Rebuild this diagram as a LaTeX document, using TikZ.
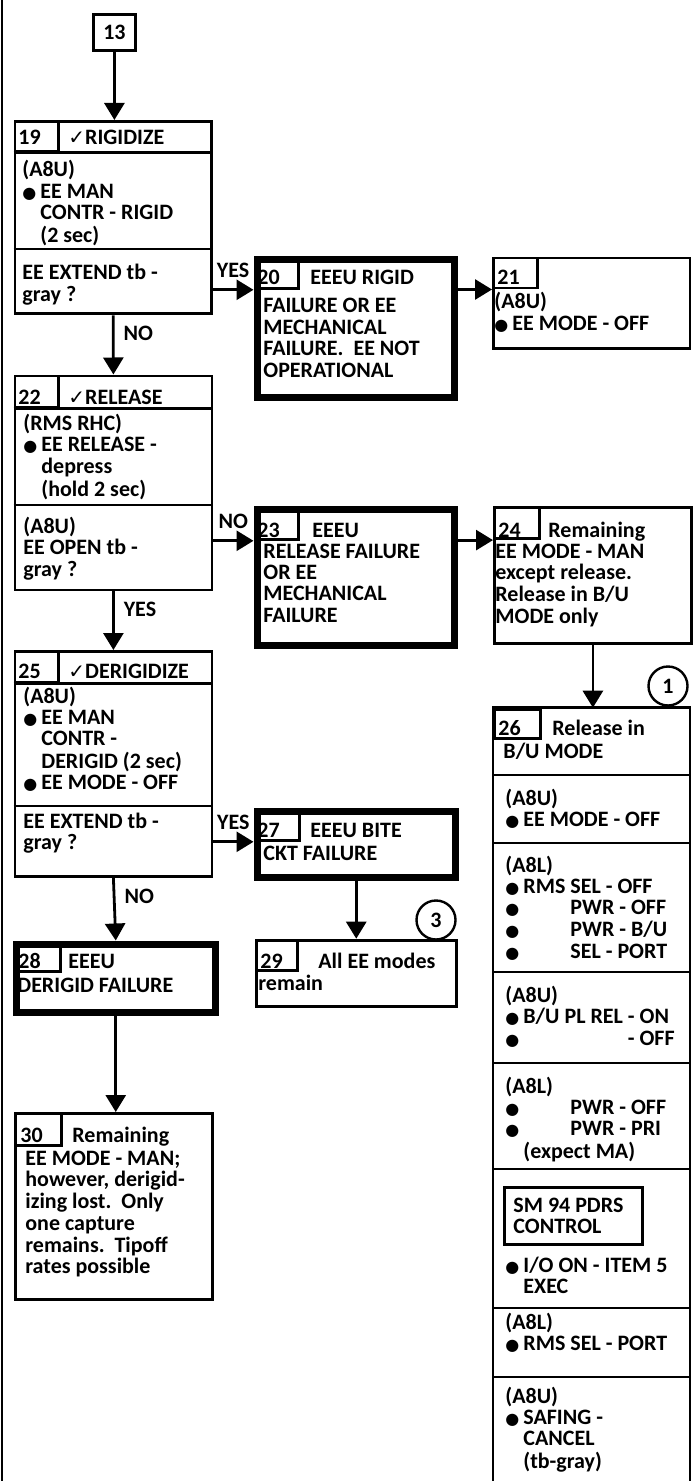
\documentclass[tikz,border=0pt]{standalone}
\usepackage{fontspec}
\setmainfont{Carlito}
\newfontfamily\symfont{DejaVu Sans}
\usetikzlibrary{arrows.meta,positioning}
\newcommand\bul{\makebox[9pt][l]{\symfont\fontsize{8}{8}\selectfont ●}}
\newcommand\ind{\hspace*{9pt}}
\newcommand\chk{{\symfont\fontsize{10}{10}\selectfont ✓}}
\newcommand\lines[1]{\begin{tabular}[t]{@{}l@{}}#1\end{tabular}}
\begin{document}
\begin{tikzpicture}[x=0.5pt, y=-0.5pt,
  every node/.style={font=\fontsize{11}{10.7}\selectfont\bfseries},
  thinline/.style={line width=1.4pt},
  sz/.style 2 args={minimum width=#1*0.5pt, minimum height=#2*0.5pt},
  box/.style={draw, thinline, anchor=north west, inner sep=0pt},
  failbox/.style={draw, line width=3.5pt, anchor=north west, inner sep=0pt},
  cell/.style={draw, thinline, anchor=north west, inner sep=0pt},
  txt/.style={anchor=base west, inner sep=0pt},
  lbl/.style={inner sep=0pt},
  ring/.style={circle, draw, line width=1.2pt, minimum size=19.5pt, inner sep=0pt},
  arr/.style={thinline, -{Triangle[width=10pt,length=8.5pt]}}]
\useasboundingbox (0,0) rectangle (693,1481);
\draw[line width=1pt] (2,0) -- (2,1481);
\node[box, sz={42}{36}] (b13) at (92,13) {13};
% 19
\node[box, sz={196.5}{192.5}] (b19) at (13.5,120) {};
\node[cell, sz={43.5}{30}] (n19) at (b19.north west) {};
\draw[thinline] (n19.south west) -- (n19.south west -| b19.east);
\draw[thinline] (b19.west |- 0,249) -- (b19.east |- 0,249);
\node[txt] (t19) at (18,145) {19};
\node[txt] (h19) at (68,145) {\chk RIGIDIZE};
\node[txt] (a19) at (22,177) {\lines{(A8U)\\\bul EE MAN\\\ind CONTR - RIGID\\\ind (2 sec)}};
\node[txt] (q19) at (22,280) {\lines{EE EXTEND tb -\\gray ?}};
% 20
\node[failbox, sz={197}{138}] (b20) at (253.5,256) {};
\node[cell, sz={43.5}{31}] (n20) at (b20.north west) {};
\node[txt] (t20) at (257,285) {20};
\node[txt] (h20) at (310,285) {EEEU RIGID};
\node[txt] (a20) at (263,313) {\lines{FAILURE OR EE\\MECHANICAL\\FAILURE.\ \ EE NOT\\OPERATIONAL}};
% 21
\node[box, sz={196.5}{90.6}] (b21) at (492,256.7) {};
\node[cell, sz={44}{30}] (n21) at (b21.north west) {};
\node[txt] (t21) at (497,285) {21};
\node[txt] (a21) at (494,309) {\lines{(A8U)\\\bul EE MODE - OFF}};
% 22
\node[box, sz={197}{214}] (b22) at (13.5,374.5) {};
\node[cell, sz={43.5}{31}] (n22) at (b22.north west) {};
\draw[thinline] (n22.south west) -- (n22.south west -| b22.east);
\draw[thinline] (b22.west |- 0,505) -- (b22.east |- 0,505);
\node[txt] (t22) at (18,404) {22};
\node[txt] (h22) at (68,404) {\chk RELEASE};
\node[txt] (a22) at (23,430) {\lines{(RMS RHC)\\\bul EE RELEASE -\\\ind depress\\\ind (hold 2 sec)}};
\node[txt] (q22) at (23,533) {\lines{(A8U)\\EE OPEN tb -\\gray ?}};
% 23
\node[failbox, sz={197.5}{136.5}] (b23) at (253.5,505.5) {};
\node[cell, sz={43.5}{32.5}] (n23) at (b23.north west) {};
\node[txt] (t23) at (257,537) {23};
\node[txt] (h23) at (312,537) {EEEU};
\node[txt] (a23) at (263,558) {\lines{RELEASE FAILURE\\OR EE\\MECHANICAL\\FAILURE}};
% 24
\node[box, sz={197}{136.6}] (b24) at (493,505.7) {};
\node[cell, sz={45}{31.6}] (n24) at (b24.north west) {};
\node[txt] (t24) at (498,537) {24};
\node[txt] (h24) at (548,537) {Remaining};
\node[txt] (a24) at (495,558) {\lines{EE MODE - MAN\\except release.\\Release in B/U\\MODE only}};
% 25
\node[box, sz={197}{225}] (b25) at (13.5,650) {};
\node[cell, sz={43.5}{31}] (n25) at (b25.north west) {};
\draw[thinline] (n25.south west) -- (n25.south west -| b25.east);
\draw[thinline] (b25.west |- 0,806) -- (b25.east |- 0,806);
\node[txt] (t25) at (18,678) {25};
\node[txt] (h25) at (68,678) {\chk DERIGIDIZE};
\node[txt] (a25) at (23,703) {\lines{(A8U)\\\bul EE MAN\\\ind CONTR -\\\ind DERIGID (2 sec)\\\bul EE MODE - OFF}};
\node[txt] (q25) at (23,828) {\lines{EE EXTEND tb -\\gray ?}};
% 26
\node[anchor=north west, inner sep=0pt, outer sep=0pt, sz={197}{773.3}] (b26) at (493,707.7) {};
\draw[thinline] (b26.south west) |- (b26.north east) -- (b26.south east);
\node[cell, sz={46}{29.6}] (n26) at (b26.north west) {};
\foreach \y in {775,843,972,1063,1169,1308,1377}
  \draw[thinline] (b26.west |- 0,\y) -- (b26.east |- 0,\y);
\node[txt] (t26) at (498,735) {26};
\node[txt] (h26) at (552,735) {Release in};
\node[txt] (s26) at (503,758) {B/U MODE};
\node[txt] (a26) at (505,805) {\lines{(A8U)\\\bul EE MODE - OFF}};
\node[txt] (b26a) at (505,872) {\lines{(A8L)\\\bul RMS SEL - OFF\\\bul \phantom{RMS\ }PWR - OFF\\\bul \phantom{RMS\ }PWR - B/U\\\bul \phantom{RMS\ }SEL - PORT}};
\node[txt] (c26) at (505,1002) {\lines{(A8U)\\\bul B/U PL REL - ON\\\bul \phantom{B/U PL REL\ }- OFF}};
\node[txt] (d26) at (505,1093) {\lines{(A8L)\\\bul \phantom{RMS\ }PWR - OFF\\\bul \phantom{RMS\ }PWR - PRI\\\ind (expect MA)}};
\node[box, sz={138}{57}] (sm94) at (503,1186) {};
\node[txt] (sm94t) at (513,1212) {\lines{SM 94 PDRS\\CONTROL}};
\node[txt] (e26) at (505,1272) {\lines{\bul I/O ON - ITEM 5\\\ind EXEC}};
\node[txt] (f26) at (505,1329) {\lines{(A8L)\\\bul RMS SEL - PORT}};
\node[txt] (g26) at (505,1403) {\lines{(A8U)\\\bul SAFING -\\\ind CANCEL\\\ind (tb-gray)}};
% 27
\node[failbox, sz={198.5}{66}] (b27) at (253.5,808) {};
\node[cell, sz={44.5}{31}] (n27) at (b27.north west) {};
\node[txt] (t27) at (257,837) {27};
\node[txt] (h27) at (310,837) {EEEU BITE};
\node[txt] (a27) at (263,860) {CKT FAILURE};
% 28
\node[failbox, sz={199.5}{68.5}] (b28) at (12.5,940.5) {};
\node[cell, sz={46.5}{29.5}] (n28) at (b28.north west) {};
\node[txt] (t28) at (18,968) {28};
\node[txt] (h28) at (68,968) {EEEU};
\node[txt] (a28) at (17,992) {DERIGID FAILURE};
% 29
\node[box, sz={199.7}{66.6}] (b29) at (255.3,938.7) {};
\node[cell, sz={41}{30}] (n29) at (b29.north west) {};
\node[txt] (t29) at (260,968) {29};
\node[txt] (h29) at (318,968) {All EE modes};
\node[txt] (a29) at (258,990) {remain};
% 30
\node[box, sz={196.7}{186}] (b30) at (14,1112) {};
\node[cell, sz={45.7}{32}] (n30) at (b30.north west) {};
\node[txt] (t30) at (20,1142) {30};
\node[txt] (h30) at (72,1142) {Remaining};
\node[txt] (a30) at (25,1165) {\lines{EE MODE - MAN;\\however, derigid-\\izing lost.\ \ Only\\one capture\\remains.\ \ Tipoff\\rates possible}};
% circles
\node[ring] (c1) at (668,686) {1};
\node[ring] (c3) at (436,920) {3};
% connectors
\draw[arr] (b13.south) -- (b13.south |- b19.north);
\draw[arr] (b19.south) -- node[lbl, pos=0.3, right=4.5pt] (l19) {NO} (b22.north);
\draw[arr] (b22.south) -- node[lbl, pos=0.3, right=4.5pt] (l22) {YES} (b25.north);
\draw[arr] (b25.south) -- node[lbl, pos=0.3, right=4.5pt] (l25) {NO} (b28.north);
\draw[arr] (b28.south) -- (b28.south |- b30.north);
\draw[arr] (n20.south west -| b19.east) -- node[lbl, above=5.5pt] (l20) {YES} (n20.south west -| b20.west);
\draw[arr] (n21.south west -| b20.east) -- (n21.south west -| b21.west);
\draw[arr] (n23.south west -| b22.east) -- node[lbl, above=5.5pt] (l23) {NO} (n23.south west -| b23.west);
\draw[arr] (n24.south west -| b23.east) -- (n24.south west -| b24.west);
\draw[arr] (b24.south) -- (b24.south |- b26.north);
\draw[arr] (n27.south west -| b25.east) -- node[lbl, above=5.5pt] (l27) {YES} (n27.south west -| b27.west);
\draw[arr] (b27.south) -- (b27.south |- b29.north);
\end{tikzpicture}
\end{document}
